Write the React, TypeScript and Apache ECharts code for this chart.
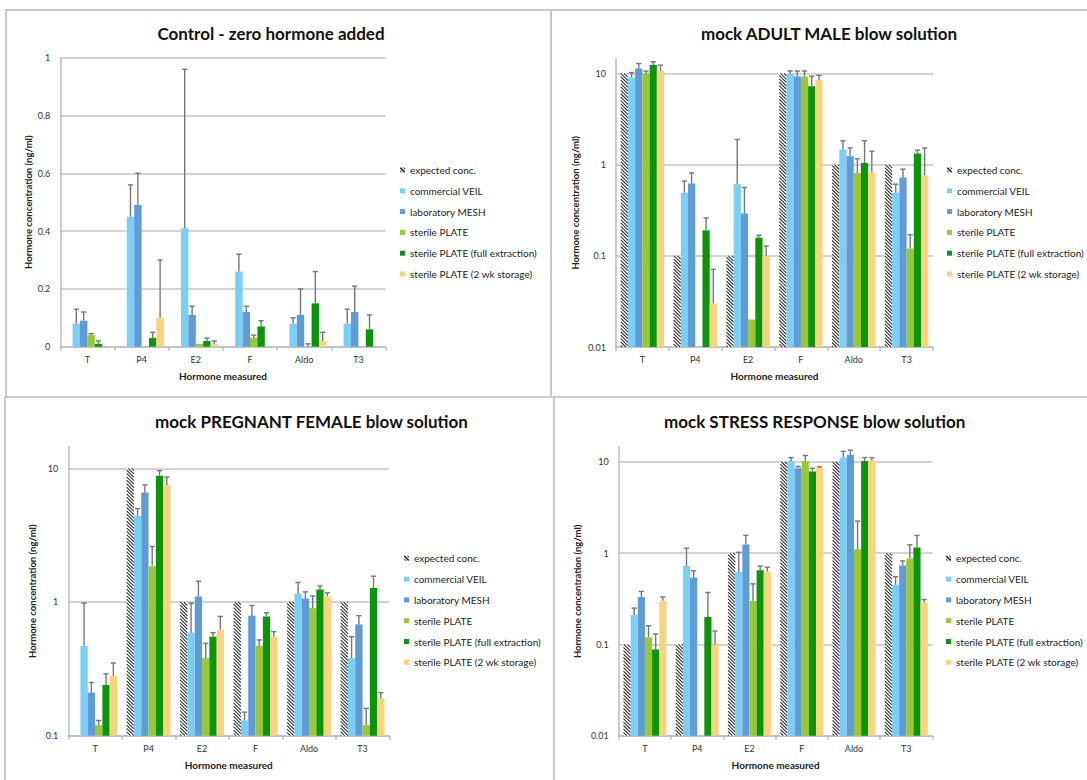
import { useEffect, useRef } from "react";
import * as echarts from "echarts";

const FONT = 'Lato, "Open Sans", "DejaVu Sans", sans-serif';

const hormones = ["T", "P4", "E2", "F", "Aldo", "T3"];
const treatments = [
  "expected conc.",
  "commercial VEIL",
  "laboratory MESH",
  "sterile PLATE",
  "sterile PLATE (full extraction)",
  "sterile PLATE (2 wk storage)",
];
const treatmentColors = ["#ffffff", "#79CFF5", "#5F9BD6", "#99C931", "#0A950A", "#FDD27E"];

type V = number | null;

// Control - zero hormone added (ng/ml), mean and upper error
const controlExpected: V[] = [null, null, null, null, null, null];
const controlVeil: V[] = [0.08, 0.45, 0.41, 0.26, 0.08, 0.08];
const controlVeilErr: V[] = [0.05, 0.11, 0.55, 0.06, 0.02, 0.05];
const controlMesh: V[] = [0.09, 0.49, 0.11, 0.12, 0.11, 0.12];
const controlMeshErr: V[] = [0.03, 0.11, 0.03, 0.02, 0.09, 0.09];
const controlPlate: V[] = [0.04, null, 0.01, 0.03, 0, null];
const controlPlateErr: V[] = [0.005, null, 0, 0.01, 0.01, null];
const controlFull: V[] = [0.01, 0.03, 0.02, 0.07, 0.15, 0.06];
const controlFullErr: V[] = [0.01, 0.02, 0.01, 0.02, 0.11, 0.05];
const controlStored: V[] = [null, 0.1, 0.01, null, 0.02, null];
const controlStoredErr: V[] = [null, 0.2, 0.01, null, 0.03, null];

// mock ADULT MALE blow solution
const maleExpected: V[] = [10, 0.1, 0.1, 10, 1, 1];
const maleVeil: V[] = [9.0, 0.49, 0.61, 9.8, 1.46, 0.49];
const maleVeilErr: V[] = [1.2, 0.17, 1.27, 0.8, 0.36, 0.12];
const maleMesh: V[] = [11.3, 0.62, 0.29, 9.2, 1.23, 0.72];
const maleMeshErr: V[] = [1.5, 0.19, 0.27, 1.4, 0.29, 0.17];
const malePlate: V[] = [10.0, null, 0.02, 9.2, 0.81, 0.12];
const malePlateErr: V[] = [0.6, null, 0, 1.4, 0.35, 0.05];
const maleFull: V[] = [12.3, 0.19, 0.158, 7.2, 1.04, 1.32];
const maleFullErr: V[] = [1.1, 0.07, 0.01, 2.1, 0.78, 0.12];
const maleStored: V[] = [10.6, 0.03, 0.1, 8.4, 0.82, 0.76];
const maleStoredErr: V[] = [1.7, 0.041, 0.028, 1.1, 0.58, 0.76];

// mock PREGNANT FEMALE blow solution
const femaleExpected: V[] = [null, 10, 1, 1, 1, 1];
const femaleVeil: V[] = [0.47, 4.4, 0.59, 0.13, 1.15, 0.38];
const femaleVeilErr: V[] = [0.51, 0.6, 0.39, 0.02, 0.25, 0.17];
const femaleMesh: V[] = [0.21, 6.6, 1.1, 0.79, 1.06, 0.68];
const femaleMeshErr: V[] = [0.04, 0.9, 0.33, 0.15, 0.13, 0.11];
const femalePlate: V[] = [0.12, 1.85, 0.38, 0.47, 0.9, 0.12];
const femalePlateErr: V[] = [0.01, 0.75, 0.11, 0.05, 0.21, 0.04];
const femaleFull: V[] = [0.24, 8.8, 0.55, 0.78, 1.24, 1.27];
const femaleFullErr: V[] = [0.05, 0.8, 0.04, 0.05, 0.08, 0.29];
const femaleStored: V[] = [0.28, 7.5, 0.62, 0.55, 1.1, 0.19];
const femaleStoredErr: V[] = [0.07, 1.1, 0.16, 0.05, 0.07, 0.02];

// mock STRESS RESPONSE blow solution
const stressExpected: V[] = [0.1, 0.1, 1, 10, 10, 1];
const stressVeil: V[] = [0.21, 0.72, 0.62, 10.2, 11.1, 0.45];
const stressVeilErr: V[] = [0.04, 0.41, 0.4, 0.9, 1.9, 0.1];
const stressMesh: V[] = [0.33, 0.54, 1.24, 8.5, 11.9, 0.73];
const stressMeshErr: V[] = [0.05, 0.1, 0.32, 0.4, 1.5, 0.09];
const stressPlate: V[] = [0.12, null, 0.3, 10.2, 1.1, 0.87];
const stressPlateErr: V[] = [0.04, null, 0.16, 1.5, 1.14, 0.36];
const stressFull: V[] = [0.088, 0.2, 0.65, 7.8, 10.2, 1.15];
const stressFullErr: V[] = [0.042, 0.17, 0.07, 0.7, 0.9, 0.41];
const stressStored: V[] = [0.3, 0.1, 0.63, 8.6, 10.3, 0.29];
const stressStoredErr: V[] = [0.03, 0.04, 0.07, 0.2, 0.8, 0.02];

const noErr: V[] = [null, null, null, null, null, null];

interface Panel {
  title: string;
  log: boolean;
  min: number;
  max: number;
  values: V[][];
  errors: V[][];
  box: [number, number, number, number];
  grid: { left: number; top: number; width: number; height: number };
  titlePos: [number, number];
  legendPos: [number, number];
  yNameGap: number;
}

const panels: Panel[] = [
  {
    title: "Control - zero hormone added",
    log: false,
    min: 0,
    max: 1,
    values: [controlExpected, controlVeil, controlMesh, controlPlate, controlFull, controlStored],
    errors: [noErr, controlVeilErr, controlMeshErr, controlPlateErr, controlFullErr, controlStoredErr],
    box: [6, 10, 545, 387],
    grid: { left: 60.3, top: 57.7, width: 325.2, height: 289 },
    titlePos: [271, 33],
    legendPos: [400, 164.5],
    yNameGap: 26.8,
  },
  {
    title: "mock ADULT MALE blow solution",
    log: true,
    min: 0.01,
    max: 14.5,
    values: [maleExpected, maleVeil, maleMesh, malePlate, maleFull, maleStored],
    errors: [noErr, maleVeilErr, maleMeshErr, malePlateErr, maleFullErr, maleStoredErr],
    box: [551, 10, 600, 387],
    grid: { left: 616, top: 58.6, width: 317, height: 288.4 },
    titlePos: [829, 33],
    legendPos: [947, 164.5],
    yNameGap: 35.8,
  },
  {
    title: "mock PREGNANT FEMALE blow solution",
    log: true,
    min: 0.1,
    max: 14.5,
    values: [femaleExpected, femaleVeil, femaleMesh, femalePlate, femaleFull, femaleStored],
    errors: [noErr, femaleVeilErr, femaleMeshErr, femalePlateErr, femaleFullErr, femaleStoredErr],
    box: [5, 397, 549, 400],
    grid: { left: 68.3, top: 446.7, width: 321, height: 289 },
    titlePos: [311.5, 421],
    legendPos: [404, 552.8],
    yNameGap: 30.9,
  },
  {
    title: "mock STRESS RESPONSE blow solution",
    log: true,
    min: 0.01,
    max: 14.5,
    values: [stressExpected, stressVeil, stressMesh, stressPlate, stressFull, stressStored],
    errors: [noErr, stressVeilErr, stressMeshErr, stressPlateErr, stressFullErr, stressStoredErr],
    box: [554, 397, 600, 400],
    grid: { left: 618.8, top: 447, width: 313.6, height: 288.7 },
    titlePos: [814.6, 421],
    legendPos: [946, 552.8],
    yNameGap: 36.3,
  },
];

const CATEGORY_GAP = 0.18;
const HATCH_STEP = 3.4;
const AXIS_GREY = "#bdbdbd";
const ERR_GREY = "#767676";
const HATCH_ICON = "path://M0,0L2.5,0L10,7.5L10,10L7.5,10L0,2.5Z M5.5,0L8,0L10,2L10,4.5Z M0,5.5L4.5,10L2,10L0,8Z";

// Diagonal "\" hatch clipped to a bar rectangle
function hatchLines(x0: number, y0: number, x1: number, y1: number) {
  const lines: any[] = [];
  const kStart = Math.ceil((y0 - x1) / HATCH_STEP) * HATCH_STEP;
  for (let k = kStart; k < y1 - x0; k += HATCH_STEP) {
    const xs = Math.max(x0, y0 - k);
    const xe = Math.min(x1, y1 - k);
    if (xe > xs) {
      lines.push({
        type: "line",
        silent: true,
        shape: { x1: xs, y1: xs + k, x2: xe, y2: xe + k },
        style: { stroke: "#333333", lineWidth: 1.1 },
      });
    }
  }
  return lines;
}

function barRenderer(slot: number, base: number) {
  const color = treatmentColors[slot];
  const hatched = slot === 0;
  return (_params: any, api: any) => {
    const cat = api.value(0) as number;
    const v = api.value(1) as number;
    const e = api.value(2) as number;
    const band = api.size([1, 0])[0];
    const bw = (band * (1 - CATEGORY_GAP)) / treatments.length;
    const basePt = api.coord([cat, base]);
    const x0 = basePt[0] - (bw * treatments.length) / 2 + slot * bw;
    const yBase = basePt[1];
    const children: any[] = [];
    let yTop = yBase;
    if (v > base) {
      yTop = api.coord([cat, v])[1];
      const shape = { x: x0, y: yTop, width: bw, height: yBase - yTop };
      if (hatched) {
        children.push({ type: "rect", silent: true, shape, style: { fill: "#ffffff" } });
        children.push(...hatchLines(x0, yTop, x0 + bw, yBase));
      } else {
        children.push({ type: "rect", silent: true, shape, style: { fill: color } });
      }
    }
    if (e > 0) {
      const yErr = api.coord([cat, v + e])[1];
      const xm = x0 + bw / 2;
      const st = { stroke: ERR_GREY, lineWidth: 1.4 };
      children.push({ type: "line", silent: true, shape: { x1: xm, y1: yTop, x2: xm, y2: yErr }, style: st });
      children.push({ type: "line", silent: true, shape: { x1: xm - 2.6, y1: yErr, x2: xm + 2.6, y2: yErr }, style: st });
    }
    return { type: "group", children };
  };
}

function formatTick(v: number, log: boolean) {
  if (log) {
    const lg = Math.log10(v);
    if (Math.abs(lg - Math.round(lg)) > 1e-6) return "";
  }
  return String(Number(v.toPrecision(6)));
}

function buildOption(): echarts.EChartsOption {
  const grid: any[] = [];
  const xAxis: any[] = [];
  const yAxis: any[] = [];
  const series: any[] = [];
  const legend: any[] = [];
  const graphic: any[] = [];

  panels.forEach((p, pi) => {
    graphic.push({
      type: "rect",
      silent: true,
      z: -10,
      shape: { x: p.box[0], y: p.box[1], width: p.box[2], height: p.box[3] },
      style: { fill: "none", stroke: "#c9c9c9", lineWidth: 2 },
    });
    graphic.push({
      type: "text",
      silent: true,
      x: p.titlePos[0],
      y: p.titlePos[1],
      style: {
        text: p.title,
        align: "center",
        verticalAlign: "middle",
        fill: "#111111",
        font: `bold 17px ${FONT}`,
      },
    });

    grid.push({ ...p.grid });

    xAxis.push({
      type: "category",
      gridIndex: pi,
      data: hormones,
      boundaryGap: true,
      axisLine: { show: true, onZero: false, lineStyle: { color: AXIS_GREY, width: 1.5 } },
      axisTick: { show: true, interval: 0, length: 4, lineStyle: { color: AXIS_GREY, width: 1.5 } },
      axisLabel: { interval: 0, margin: 8, fontSize: 9, color: "#333", fontFamily: FONT },
      splitLine: { show: false },
      name: "Hormone measured",
      nameLocation: "middle",
      nameGap: 24,
      nameTextStyle: { fontSize: 10, fontWeight: "bold", color: "#222", fontFamily: FONT },
    });

    yAxis.push({
      type: p.log ? "log" : "value",
      gridIndex: pi,
      logBase: 10,
      min: p.min,
      max: p.max,
      ...(p.log ? {} : { interval: 0.2 }),
      axisLine: { show: true, lineStyle: { color: AXIS_GREY, width: 1.5 } },
      axisTick: { show: false },
      axisLabel: {
        margin: 10,
        fontSize: 9,
        color: "#333",
        fontFamily: FONT,
        showMaxLabel: !p.log,
        formatter: (v: number) => formatTick(v, p.log),
      },
      splitLine: {
        show: true,
        showMaxLine: !p.log,
        lineStyle: { color: "#c4c4c4", width: 1.5 },
      },
      name: "Hormone concentration (ng/ml)",
      nameLocation: "middle",
      nameRotate: 90,
      nameGap: p.yNameGap,
      nameTextStyle: { fontSize: 9.5, fontWeight: "bold", color: "#222", fontFamily: FONT },
    });

    treatments.forEach((name, s) => {
      const vals = p.values[s];
      const errs = p.errors[s];
      const data: number[][] = [];
      vals.forEach((v, i) => {
        if (v == null) return;
        if (p.log && !(v > 0)) return;
        data.push([i, v, errs[i] ?? 0]);
      });
      series.push({
        type: "custom",
        name,
        xAxisIndex: pi,
        yAxisIndex: pi,
        silent: true,
        itemStyle: { color: s === 0 ? "#333333" : treatmentColors[s] },
        encode: { x: 0, y: 1 },
        renderItem: barRenderer(s, p.log ? p.min : 0),
        data,
      });
    });

    legend.push({
      orient: "vertical",
      left: p.legendPos[0],
      top: p.legendPos[1],
      padding: 0,
      itemWidth: 5,
      itemHeight: 5,
      itemGap: 9.8,
      selectedMode: false,
      textStyle: { fontSize: 10, lineHeight: 11, color: "#222", fontFamily: FONT },
      data: treatments.map((name, s) => ({
        name,
        icon: s === 0 ? HATCH_ICON : "rect",
        itemStyle: { color: s === 0 ? "#333333" : treatmentColors[s], borderWidth: 0 },
      })),
    });
  });

  return {
    animation: false,
    backgroundColor: "#ffffff",
    textStyle: { fontFamily: FONT },
    grid,
    xAxis,
    yAxis,
    series,
    legend,
    graphic,
    tooltip: { show: false },
  } as echarts.EChartsOption;
}

export default function App() {
  const ref = useRef<HTMLDivElement>(null);

  useEffect(() => {
    document.body.style.margin = "0";
    if (!ref.current) return;
    const chart = echarts.init(ref.current, undefined, { renderer: "svg" });
    chart.setOption(buildOption());
    return () => chart.dispose();
  }, []);

  return (
    <div
      ref={ref}
      style={{ position: "absolute", left: 0, top: 0, width: 1087, height: 780, background: "#fff" }}
    />
  );
}
